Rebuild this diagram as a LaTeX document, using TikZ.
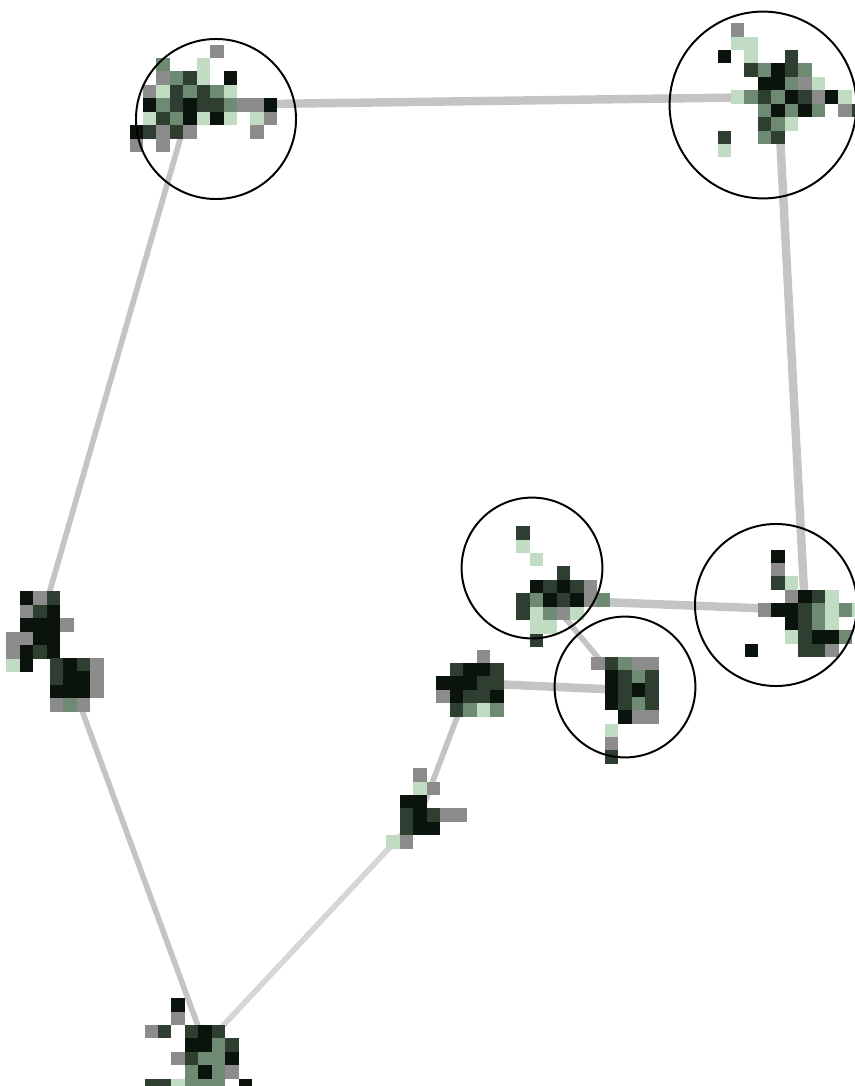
\documentclass[tikz,border=0pt]{standalone}
\usepackage{tikz}
\usetikzlibrary{positioning}
\definecolor{pxk}{HTML}{0B140C}
\definecolor{pxd}{HTML}{2E3F31}
\definecolor{pxm}{HTML}{6F8A72}
\definecolor{pxl}{HTML}{C2DCC3}
\definecolor{pxg}{HTML}{8C8C8C}
\definecolor{edgegray}{HTML}{C4C4C4}
\newcommand{\blob}[2]{%
  \begin{scope}[shift={(#1)},x=0.335cm,y=-0.335cm]
    \foreach \i/\j/\c in {#2} \fill[px\c] (\i-0.5,\j-0.5) rectangle ++(1,1);
  \end{scope}}

\begin{document}
\begin{tikzpicture}[x=0.025cm,y=-0.025cm,
  edge/.style={draw=edgegray,line width=6pt},
  thinedge/.style={draw=edgegray,line width=4pt},
  ring/.style={circle,draw=black,line width=1.4pt,inner sep=0pt}]
\useasboundingbox (0,0) rectangle (855,1086);
% cluster centres
\coordinate (clA) at (190,105);
\coordinate (clB) at (778,97);
\coordinate (clC) at (550,600);
\coordinate (clD) at (805,610);
\coordinate (clE) at (625,690);
\coordinate (clF) at (40,625);
\coordinate (clG) at (70,678);
\coordinate (clH) at (470,683);
\coordinate (clI) at (420,815);
\coordinate (clJ) at (205,1045);
% links
\draw[edge] (clA) -- (clB);
\draw[edge] (clB) -- (clD);
\draw[edge] (clC) -- (clD);
\draw[thinedge] (clC) -- (clE);
\draw[edge] (clH) -- (clE);
\draw[thinedge] (clI) -- (clH);
\draw[thinedge,draw=edgegray!70] (clJ) -- (clI);
\draw[thinedge] (clA) -- (clF);
\draw[thinedge] (clG) -- (clJ);
% clusters
\blob{clA}{2/-4/g,-2/-3/m,1/-3/l,-2/-2/g,-1/-2/m,0/-2/d,1/-2/l,3/-2/k,
  -3/-1/g,-2/-1/l,-1/-1/d,0/-1/m,1/-1/d,2/-1/m,3/-1/l,
  -3/0/k,-2/0/m,-1/0/d,0/0/k,1/0/d,2/0/d,3/0/m,4/0/g,5/0/g,6/0/k,
  -3/1/l,-2/1/d,-1/1/m,0/1/k,1/1/l,2/1/k,3/1/l,5/1/l,6/1/g,
  -4/2/k,-3/2/d,-2/2/g,-1/2/d,0/2/g,5/2/g,-4/3/g,-2/3/g}
\blob{clB}{-3/-5/g,-3/-4/l,-2/-4/l,-4/-3/k,-2/-3/l,1/-3/d,
  -2/-2/d,-1/-2/m,0/-2/k,1/-2/d,2/-2/m,
  -1/-1/k,0/-1/k,1/-1/m,2/-1/g,3/-1/l,
  -3/0/l,-2/0/m,-1/0/d,0/0/m,1/0/k,2/0/d,3/0/g,4/0/k,5/0/l,
  -1/1/m,0/1/k,1/1/m,2/1/k,3/1/m,5/1/g,6/1/d,
  -1/2/d,0/2/m,1/2/l,-4/3/d,-1/3/m,0/3/d,-4/4/l}
\blob{clC}{-2/-5/d,-2/-4/l,-1/-3/l,1/-2/d,
  -1/-1/k,0/-1/d,1/-1/k,2/-1/d,3/-1/g,
  -2/0/d,-1/0/m,0/0/k,1/0/d,2/0/k,3/0/g,4/0/m,
  -2/1/d,-1/1/l,0/1/m,1/1/g,2/1/l,-1/2/l,0/2/l,-1/3/d}
\blob{clD}{-2/-4/k,-2/-3/g,-2/-2/d,-1/-2/l,
  -1/-1/g,0/-1/k,1/-1/d,2/-1/l,
  -3/0/g,-2/0/k,-1/0/k,0/0/d,1/0/m,2/0/l,3/0/m,4/0/l,
  -1/1/k,0/1/d,1/1/m,2/1/l,
  -1/2/l,0/2/d,1/2/k,2/2/k,3/2/m,0/3/d,1/3/d,2/3/g,-4/3/k}
\blob{clE}{-2/-2/g,-1/-2/d,0/-2/m,1/-2/g,2/-2/g,
  -1/-1/k,0/-1/d,1/-1/m,2/-1/d,
  -1/0/k,0/0/d,1/0/k,2/0/d,
  -1/1/k,0/1/d,1/1/m,2/1/d,
  0/2/k,1/2/g,2/2/g,-1/3/l,-1/4/g,-1/5/d}
\blob{clF}{-1/-2/k,0/-2/g,1/-2/d,-1/-1/g,0/-1/d,1/-1/k,
  -1/0/k,0/0/k,1/0/k,2/0/g,-2/1/g,-1/1/g,0/1/k,1/1/k,
  -2/2/g,-1/2/k,0/2/d,1/2/k,-1/3/k,-2/3/l}
\blob{clG}{-1/-1/d,0/-1/k,1/-1/d,2/-1/g,-1/0/d,0/0/k,1/0/k,2/0/g,
  -1/1/k,0/1/k,1/1/k,2/1/g,-1/2/g,0/2/m,1/2/g}
\blob{clH}{1/-2/g,-1/-1/d,0/-1/k,1/-1/k,2/-1/d,
  -2/0/k,-1/0/k,0/0/k,1/0/d,2/0/d,
  -2/1/g,-1/1/k,0/1/d,1/1/d,2/1/k,-1/2/d,0/2/m,1/2/l,2/2/m}
\blob{clI}{0/-3/g,0/-2/l,1/-2/g,-1/-1/k,0/-1/k,
  -1/0/d,0/0/k,1/0/d,2/0/g,3/0/g,-1/1/d,0/1/k,1/1/k,-1/2/g,-2/2/l}
\blob{clJ}{-2/-3/k,-2/-2/g,-4/-1/g,-3/-1/d,-1/-1/d,0/-1/k,1/-1/d,
  -1/0/k,0/0/k,1/0/m,2/0/d,-2/1/g,-1/1/d,0/1/m,1/1/m,2/1/k,
  -1/2/m,0/2/k,1/2/m,2/2/g,
  -4/3/d,-3/3/d,-2/3/l,-1/3/m,0/3/m,1/3/m,3/3/k,
  0/4/d,1/4/l,2/4/l,-1/5/m,0/5/g,2/5/d,3/5/g,-1/6/g,2/6/d}
% rings
\node[ring,minimum size=4cm] (ringA) at (216,119) {};
\node[ring,minimum size=4.67cm] (ringB) at (763,105) {};
\node[ring,minimum size=3.52cm] (ringC) at (532,568) {};
\node[ring,minimum size=4.05cm] (ringD) at (776,605) {};
\node[ring,minimum size=3.52cm] (ringE) at (625,687) {};
\end{tikzpicture}
\end{document}
